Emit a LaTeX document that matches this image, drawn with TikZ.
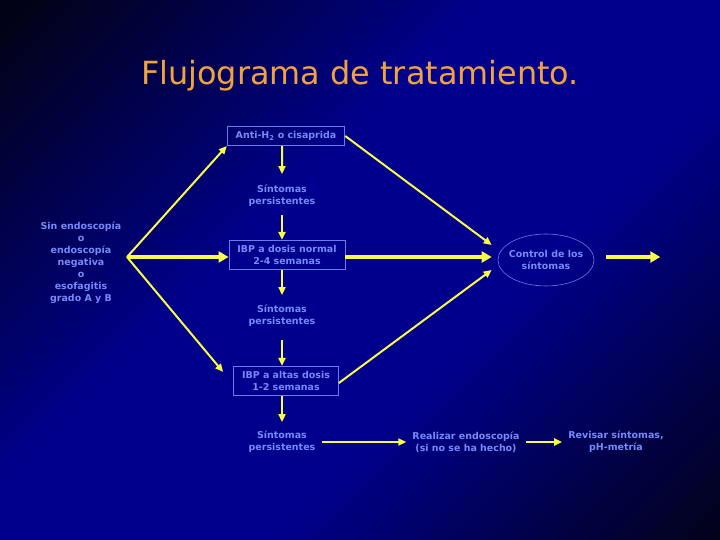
\documentclass[tikz,border=0pt]{standalone}
\usepackage{fontspec}
\setmainfont{DejaVu Sans}
\usepackage{xcolor}
\usepackage{tikz}
\usetikzlibrary{positioning,arrows.meta,calc,shapes.geometric}
\definecolor{bgdark}{RGB}{2,2,22}
\definecolor{bgmid}{RGB}{0,0,140}
\definecolor{titleorange}{RGB}{240,162,62}
\definecolor{textblue}{RGB}{118,138,250}
\definecolor{boxblue}{RGB}{104,124,236}
\definecolor{arrowyellow}{RGB}{250,250,72}
\pgfdeclarehorizontalshading{slidebg}{100bp}{color(0bp)=(bgdark); color(16bp)=(bgdark); color(42bp)=(bgmid); color(60bp)=(bgmid); color(86bp)=(bgdark); color(100bp)=(bgdark)}
\tikzset{
    note/.style={text=textblue, font=\bfseries\fontsize{9.5}{12}\selectfont, align=center, inner sep=6bp},
    box/.style={note, draw=boxblue, line width=0.8bp, inner xsep=8.5bp, inner ysep=5bp},
    oval/.style={note, ellipse, draw=boxblue, line width=0.6bp, minimum width=96bp, minimum height=52bp, inner sep=-6bp},
    arrow/.style={-{Triangle[length=8bp,width=7bp]}, line width=2bp, draw=arrowyellow},
    bigarrow/.style={-{Triangle[length=10bp,width=11bp]}, line width=4.5bp, draw=arrowyellow}
}

\begin{document}
\begin{tikzpicture}[x=1bp,y=1bp]
\useasboundingbox (0,0) rectangle (720,540);
\shade[shading=slidebg, shading angle=-45] (0,0) rectangle (720,540);
\node[font=\fontsize{32}{36}\selectfont, text=titleorange] (title) at (360,464) {Flujograma de tratamiento.};
% left column
\node[note, inner sep=2bp] (start) at (81,277) {Sin endoscopía\\o\\endoscopía\\negativa\\o\\esofagitis\\grado A y B};
\coordinate (split) at (127,283);
% middle column
\node[box] (anti) at (286,404) {Anti-H\textsubscript{2} o cisaprida};
\node[note] (sint1) at (282,344) {Síntomas\\persistentes};
\node[box] (ibpn) at (287,285) {IBP a dosis normal\\2-4 semanas};
\node[note] (sint2) at (282,224) {Síntomas\\persistentes};
\node[box] (ibpa) at (286,159) {IBP a altas dosis\\1-2 semanas};
\node[note] (sint3) at (282,98) {Síntomas\\persistentes};
% right side
\node[oval] (ctrl) at (546,280) {Control de los\\síntomas};
\coordinate (out) at ([xshift=66bp,yshift=3bp]ctrl.east);
\node[note] (endo) at (466,98) {Realizar endoscopía\\(si no se ha hecho)};
\node[note] (revis) at (616,98) {Revisar síntomas,\\pH-metría};
% connectors
\draw[arrow] (split) -- (anti.south west);
\draw[bigarrow] (split) -- (split -| ibpn.west);
\draw[arrow] (split) -- ([xshift=-10bp,yshift=9bp]ibpa.west);
\draw[arrow, shorten >=5bp] ([xshift=-4bp]anti.south) -- (sint1.north);
\draw[arrow, shorten <=2bp] (sint1.south) -- (sint1.south |- ibpn.north);
\draw[arrow, shorten >=4bp] (ibpn.south -| sint2) -- (sint2.north);
\draw[arrow, shorten <=7bp] (sint2.south) -- (sint2.south |- ibpa.north);
\draw[arrow, shorten >=3bp] (ibpa.south -| sint3) -- (sint3.north);
\draw[arrow] (anti.east) -- ([xshift=-6bp,yshift=15bp]ctrl.west);
\draw[bigarrow] (ibpn.east |- split) -- ([xshift=-6bp]ctrl.west |- split);
\draw[arrow] ([yshift=-2bp]ibpa.east) -- ([xshift=-6bp,yshift=-10bp]ctrl.west);
\draw[bigarrow] ([xshift=12bp]ctrl.east |- out) -- (out);
\draw[arrow] (sint3.east) -- (endo.west);
\draw[arrow] (endo.east) -- (revis.west);
\end{tikzpicture}
\end{document}
